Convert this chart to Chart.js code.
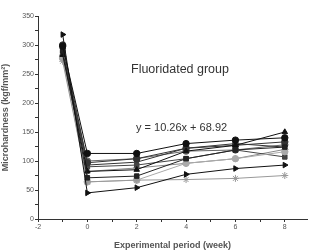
<!DOCTYPE html>
<html>
<head>
<meta charset="utf-8">
<script src="https://cdn.jsdelivr.net/npm/chart.js@4/dist/chart.umd.min.js"></script>
<style>
  html, body { margin: 0; padding: 0; background: #fff; }
  #wrap { width: 312px; height: 251px; position: relative; }
</style>
</head>
<body>
<div id="wrap"><canvas id="chart"></canvas></div>
<script>
// ── data (microhardness per specimen) ─────────────────────
const weeks = [-1, 0, 2, 4, 6, 8];
const xTicks = [-2, -1, 0, 1, 2, 3, 4, 5, 6, 7, 8];
const yTicks = [0, 25, 50, 75, 100, 125, 150, 175, 200, 225, 250, 275, 300, 325, 350];

const s1 = [298, 113, 113, 130, 136, 140];
const s2 = [318, 45, 54, 77, 87, 93];
const s3 = [290, 71, 74, 104, 119, 124];
const s4 = [283, 82, 85, 117, 127, 150];
const s5 = [300, 97, 104, 122, 127, 133];
const s6 = [272, 64, 67, 68, 70, 75];
const s7 = [278, 64, 67, 96, 104, 116];
const s8 = [287, 90, 93, 104, 119, 107];
const s9 = [292, 93, 98, 122, 130, 124];
const s10 = [276, 82, 88, 96, 104, 120];
const s11 = [280, 100, 104, 117, 119, 128];

const groupLabel = "Fluoridated group";
const fitLabel = "y = 10.26x + 68.92";

const series = [
  { v: s1, style: "circle", rot: 0, c: "#111" },
  { v: s2, style: "triangle", rot: 90, c: "#111" },
  { v: s3, style: "rect", rot: 0, c: "#222" },
  { v: s4, style: "triangle", rot: 0, c: "#111" },
  { v: s5, style: "circle", rot: 0, c: "#333" },
  { v: s6, style: "star", rot: 0, c: "#999" },
  { v: s7, style: "circle", rot: 0, c: "#aaa" },
  { v: s8, style: "rect", rot: 0, c: "#444" },
  { v: s9, style: "triangle", rot: 180, c: "#333" },
  { v: s10, style: "rectRot", rot: 0, c: "#888" },
  { v: s11, style: "circle", rot: 0, c: "#666" },
];

const textPlugin = {
  id: "notes",
  afterDraw(chart) {
    const ctx = chart.ctx;
    ctx.save();
    ctx.fillStyle = "#333";
    ctx.textBaseline = "middle";
    ctx.font = "12.5px 'Liberation Sans', Arial, sans-serif";
    ctx.fillText(groupLabel, 131, 70);
    ctx.font = "11px 'Liberation Sans', Arial, sans-serif";
    ctx.fillText(fitLabel, 136, 128);
    ctx.restore();
  },
};

new Chart(document.getElementById("chart"), {
  type: "scatter",
  data: {
    datasets: series.map((s) => ({
      data: weeks.map((w, i) => ({ x: w, y: s.v[i] })),
      showLine: true,
      borderColor: s.c,
      backgroundColor: s.c,
      borderWidth: 1,
      pointStyle: s.style,
      rotation: s.rot,
      pointRadius: s.style === "star" ? 3.5 : 3.2,
      pointBorderWidth: 1,
    })),
  },
  options: {
    responsive: true,
    maintainAspectRatio: false,
    animation: false,
    layout: { padding: { top: 16, right: 2, left: 0, bottom: 0 } },
    plugins: { legend: { display: false }, tooltip: { enabled: false } },
    scales: {
      x: {
        type: "linear",
        min: -2,
        max: 8.9,
        afterBuildTicks: (scale) => {
          scale.ticks = xTicks.map((v) => ({ value: v }));
        },
        afterFit: (scale) => {
          scale.height = 32;
        },
        border: { display: true, color: "#333", width: 1 },
        grid: { drawOnChartArea: false, tickLength: 3, tickColor: "#333" },
        ticks: {
          autoSkip: false,
          maxRotation: 0,
          padding: 1,
          color: "#555",
          font: { size: 7, family: "'Liberation Sans', Arial, sans-serif" },
          callback: (v) => (v % 2 === 0 ? v : ""),
        },
        title: {
          display: true,
          text: "Experimental period (week)",
          color: "#555",
          padding: { top: 4, bottom: 0 },
          font: { size: 9, weight: "bold", family: "'Liberation Sans', Arial, sans-serif" },
        },
      },
      y: {
        min: 0,
        max: 350,
        afterBuildTicks: (scale) => {
          scale.ticks = yTicks.map((v) => ({ value: v }));
        },
        afterFit: (scale) => {
          scale.width = 38;
        },
        border: { display: true, color: "#333", width: 1 },
        grid: { drawOnChartArea: false, tickLength: 3, tickColor: "#333" },
        ticks: {
          autoSkip: false,
          padding: 1,
          color: "#555",
          font: { size: 7, family: "'Liberation Sans', Arial, sans-serif" },
          callback: (v) => (v % 50 === 0 ? v : ""),
        },
        title: {
          display: true,
          text: "Microhardness (kgf/mm²)",
          color: "#555",
          padding: { top: 0, bottom: 2 },
          font: { size: 9, weight: "bold", family: "'Liberation Sans', Arial, sans-serif" },
        },
      },
    },
  },
  plugins: [textPlugin],
});
</script>
</body>
</html>
